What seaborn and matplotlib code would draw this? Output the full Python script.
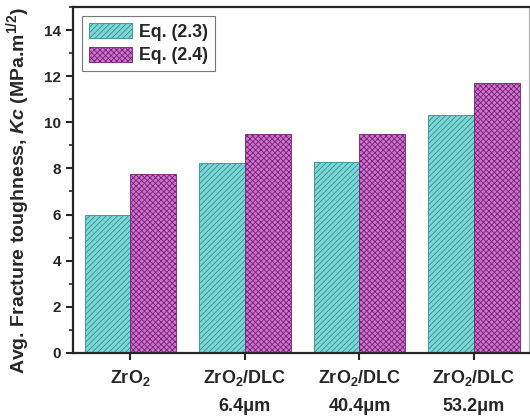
import pandas as pd
import matplotlib
matplotlib.use("Agg")
import matplotlib.pyplot as plt
import seaborn as sns
from matplotlib.patches import Patch
from matplotlib.ticker import MultipleLocator

samples = ["ZrO$_\\mathbf{2}$", "ZrO$_\\mathbf{2}$/DLC\n6.4\u03bcm",
           "ZrO$_\\mathbf{2}$/DLC\n40.4\u03bcm", "ZrO$_\\mathbf{2}$/DLC\n53.2\u03bcm"]
eq23 = [6.0, 8.25, 8.28, 10.3]
eq24 = [7.75, 9.5, 9.5, 11.7]
series = ["Eq. (2.3)", "Eq. (2.4)"]

df = pd.DataFrame({
    "sample": samples * 2,
    "Kc": eq23 + eq24,
    "eq": [series[0]] * 4 + [series[1]] * 4,
})

sns.set_style("ticks")
plt.rcParams["font.family"] = ["Liberation Sans", "DejaVu Sans"]
plt.rcParams["mathtext.fontset"] = "custom"
plt.rcParams["mathtext.rm"] = "Liberation Sans:bold"
plt.rcParams["mathtext.bf"] = "Liberation Sans:bold"
plt.rcParams["mathtext.it"] = "Liberation Sans:bold:italic"
plt.rcParams["hatch.linewidth"] = 0.6

face = ["#7fd6d6", "#c973c9"]
hatch_col = ["#2f8f8f", "#7a1f7a"]
hatches = ["//////", "xxxxxx"]

fig = plt.figure(figsize=(5.3, 4.19), dpi=100)
ax = fig.add_axes([0.138, 0.158, 0.860, 0.825])
sns.barplot(data=df, x="sample", y="Kc", hue="eq", ax=ax, width=0.8,
            gap=0, legend=False, palette=face)

for i, cont in enumerate(ax.containers):
    for bar in cont:
        bar.set_facecolor(face[i])
        bar.set_edgecolor(hatch_col[i])
        bar.set_hatch(hatches[i])
        bar.set_linewidth(0.6)

ax.set_xlim(-0.5, 3.48)
ax.set_ylim(0, 15)
ax.yaxis.set_major_locator(MultipleLocator(2))
ax.yaxis.set_minor_locator(MultipleLocator(1))
ax.tick_params(axis="both", which="major", length=5, width=1.5)
ax.tick_params(axis="y", which="major", labelsize=11)
ax.tick_params(axis="x", which="major", labelsize=13, pad=6)
ax.tick_params(axis="y", which="minor", length=3, width=1.2)
for lab in ax.get_xticklabels() + ax.get_yticklabels():
    lab.set_fontweight("bold")
for lab in ax.get_xticklabels():
    lab.set_linespacing(1.75)
ax.set_xlabel("")
ax.set_ylabel("Avg. Fracture toughness, $\\mathit{Kc}$ (MPa.m$^{\\mathbf{1/2}}$)",
              fontsize=14, fontweight="bold")
ax.yaxis.set_label_coords(-0.09, 0.47)
for side in ["left", "bottom", "top"]:
    ax.spines[side].set_linewidth(1.6)
ax.spines["right"].set_linewidth(0.8)
ax.spines["right"].set_color("#aaaaaa")

handles = [Patch(facecolor=face[i], edgecolor=hatch_col[i], hatch=hatches[i],
                 linewidth=0.6, label=series[i]) for i in range(2)]
leg = ax.legend(handles=handles, loc="upper left", frameon=True, fancybox=False,
                edgecolor="#555555", prop={"weight": "bold", "size": 12.8},
                handlelength=2.4, handleheight=0.9, handletextpad=0.4,
                borderaxespad=0.5, labelspacing=0.35)
leg.get_frame().set_linewidth(0.8)

fig.savefig("out.png", dpi=100)
